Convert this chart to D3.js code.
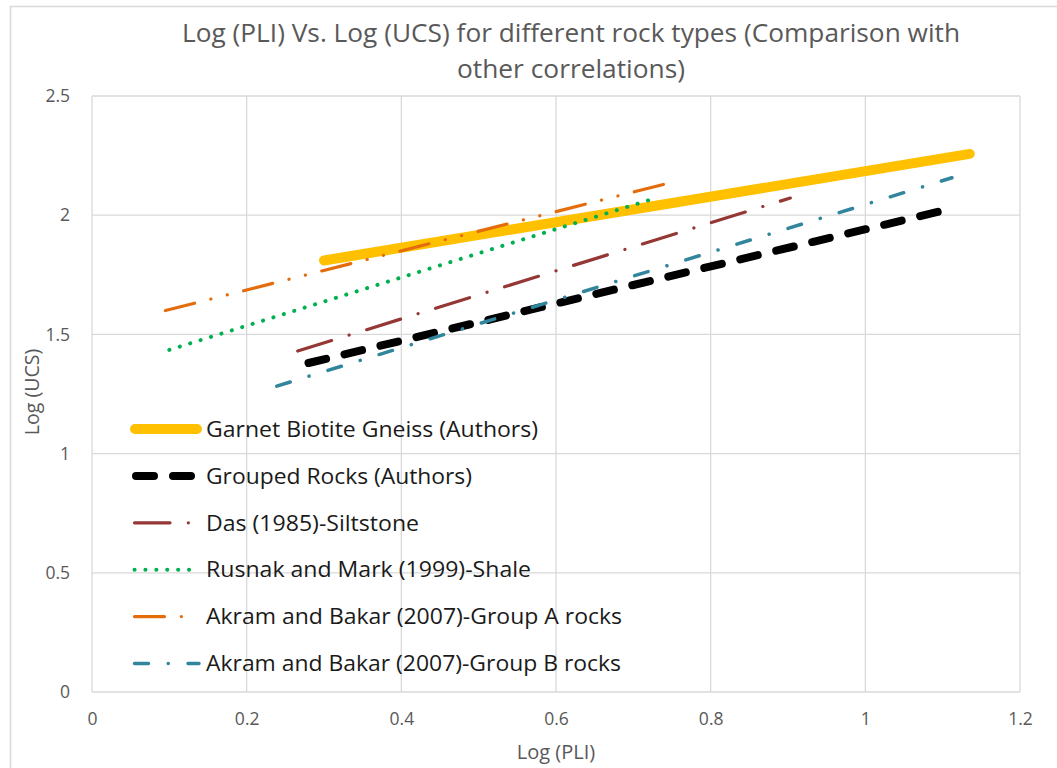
<!DOCTYPE html>
<html><head><meta charset="utf-8">
<script src="https://cdn.jsdelivr.net/npm/d3@7"></script>
<style>body{margin:0;background:#fff;}svg{display:block;font-family:"Open Sans","Noto Sans",sans-serif;}</style>
</head><body><svg id="c" width="1057" height="768"></svg>
<script>
const titleLines = ["Log (PLI) Vs. Log (UCS) for different rock types (Comparison with", "other correlations)"];
const xTicks = [0, 0.2, 0.4, 0.6, 0.8, 1, 1.2];
const yTicks = [0, 0.5, 1, 1.5, 2, 2.5];
const seriesNames = ["Garnet Biotite Gneiss (Authors)", "Grouped Rocks (Authors)", "Das (1985)-Siltstone", "Rusnak and Mark (1999)-Shale", "Akram and Bakar (2007)-Group A rocks", "Akram and Bakar (2007)-Group B rocks"];
const garnet = [[0.30, 1.81], [1.135, 2.257]];
const grouped = [[0.28, 1.38], [1.108, 2.025]];
const das = [[0.266, 1.43], [0.903, 2.072]];
const rusnak = [[0.10, 1.435], [0.727, 2.07]];
const akramA = [[0.095, 1.60], [0.74, 2.13]];
const akramB = [[0.239, 1.283], [1.112, 2.157]];
const seriesData = [garnet, grouped, das, rusnak, akramA, akramB];
const styles = [
  {color:"#FFC000", w:10, dash:null},
  {color:"#000000", w:8, dash:"18,19"},
  {color:"#953735", w:3.2, dash:"35.5,18.3,0.1,18.3"},
  {color:"#00B050", w:4, dash:"0.1,10.8"},
  {color:"#E46C0A", w:3.2, dash:"30,16.8,0.1,16.8,0.1,16.8"},
  {color:"#31859C", w:3.5, dash:"14,19.7,0.1,19.7"}
];
const legendWidths = [332, 266, 213, 325, 416, 415];
const svg = d3.select("#c");
svg.append("path").attr("d","M10.5,768 V6.5 H1057").attr("fill","none").attr("stroke","#d9d9d9").attr("stroke-width",1.5);
const L=92,R=1020,T=96,B=692;
const x = d3.scaleLinear().domain([0,1.2]).range([L,R]);
const y = d3.scaleLinear().domain([0,2.5]).range([B,T]);
const g = svg.append("g");
g.selectAll(".vg").data(xTicks).join("line").attr("x1",d=>x(d)).attr("x2",d=>x(d)).attr("y1",T).attr("y2",B).attr("stroke","#d9d9d9").attr("stroke-width",1.3);
g.selectAll(".hg").data(yTicks).join("line").attr("y1",d=>y(d)).attr("y2",d=>y(d)).attr("x1",L).attr("x2",R).attr("stroke","#d9d9d9").attr("stroke-width",1.3);
const xa = svg.append("g").attr("transform",`translate(0,${B})`).call(d3.axisBottom(x).tickValues(xTicks).tickFormat(d3.format("")).tickSize(0).tickPadding(21));
const ya = svg.append("g").attr("transform",`translate(${L},0)`).call(d3.axisLeft(y).tickValues(yTicks).tickFormat(d3.format("")).tickSize(0).tickPadding(22));
[xa,ya].forEach(a=>{a.select(".domain").remove();a.selectAll("text").attr("font-family","Open Sans, sans-serif").attr("font-size",17.5).attr("fill","#595959");});
const line = d3.line().x(d=>x(d[0])).y(d=>y(d[1]));
seriesData.forEach((s,i)=>{
  const st=styles[i];
  svg.append("path").datum(s).attr("d",line).attr("fill","none").attr("stroke",st.color).attr("stroke-width",st.w)
    .attr("stroke-linecap","round").attr("stroke-dasharray",st.dash);
});
const legY0=429, legDy=46.9;
seriesNames.forEach((n,i)=>{
  const st=styles[i], yy=legY0+i*legDy;
  const x1 = i===0?135:(i===1?136:134.5);
  const x2 = i===0?197:(i===1?192:(i===5?199:190));
  svg.append("line").attr("x1",x1).attr("x2",x2).attr("y1",yy).attr("y2",yy).attr("stroke",st.color).attr("stroke-width",st.w)
    .attr("stroke-linecap","round").attr("stroke-dasharray",st.dash);
  svg.append("text").attr("x",206).attr("y",yy).attr("dy","0.36em").attr("font-size",21.5).attr("fill","#1a1a1a")
    .attr("textLength",legendWidths[i]).attr("lengthAdjust","spacingAndGlyphs").text(n);
});
const titleWidths = [778, 228];
titleLines.forEach((t,i)=>{
  svg.append("text").attr("x",571).attr("y",33+i*36).attr("dy","0.35em").attr("text-anchor","middle").attr("font-size",25).attr("fill","#595959")
    .attr("textLength",titleWidths[i]).attr("lengthAdjust","spacingAndGlyphs").text(t);
});
svg.append("text").attr("x",556).attr("y",752).attr("dy","0.35em").attr("text-anchor","middle").attr("font-size",20).attr("fill","#595959").text("Log (PLI)");
svg.append("text").attr("transform","translate(32,392) rotate(-90)").attr("dy","0.35em").attr("text-anchor","middle").attr("font-size",19.5).attr("fill","#595959").text("Log (UCS)");
</script></body></html>
